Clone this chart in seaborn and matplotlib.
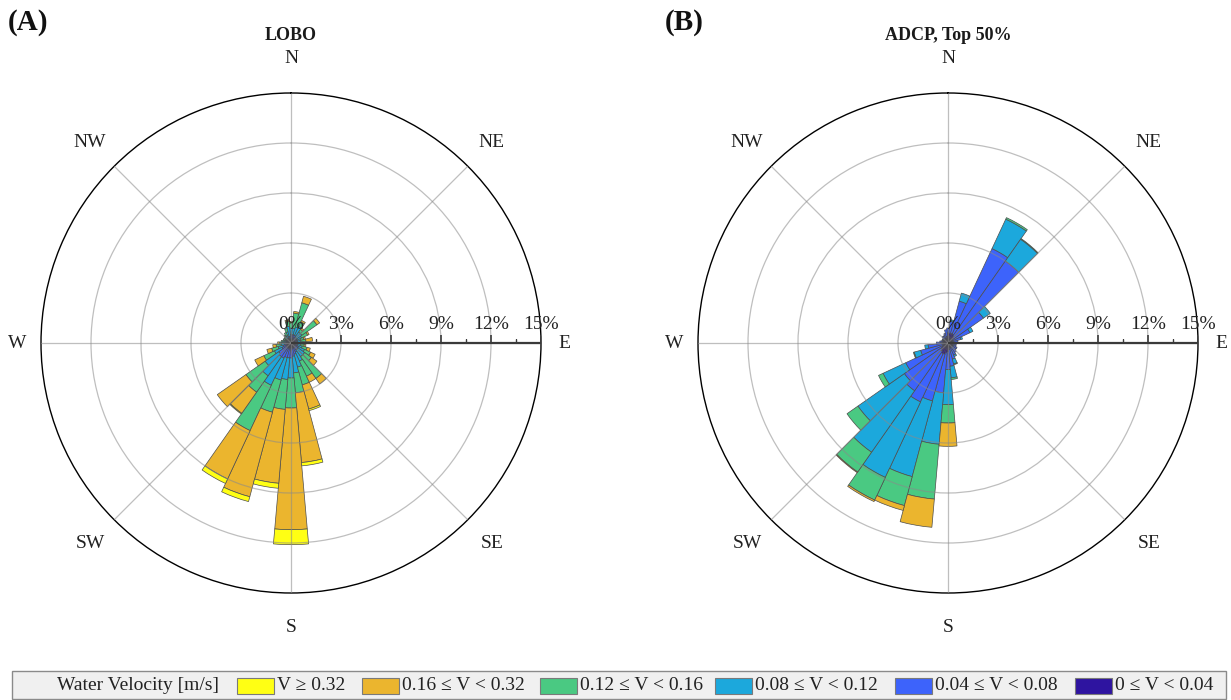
import numpy as np
import matplotlib
matplotlib.use("Agg")
import matplotlib.pyplot as plt
from matplotlib.patches import Rectangle
import seaborn as sns

# ---------------------------------------------------------------------------
# Data: frequency (%) of each speed class per 10-degree direction bin
# (directions are compass bearings the water flows toward, bin centres)
# ---------------------------------------------------------------------------
directions = list(range(0, 360, 10))

class_labels = ["0 \u2264 V < 0.04", "0.04 \u2264 V < 0.08", "0.08 \u2264 V < 0.12",
                "0.12 \u2264 V < 0.16", "0.16 \u2264 V < 0.32", "V \u2265 0.32"]
class_colors = ["#2E14A0", "#3D63FB", "#1CA8DC", "#4AC982", "#EBB52E", "#FFFF14"]

# LOBO
lobo_v0 = [.2, .2, .2, .2, .2, .2, .2, .2, .2, .2, .2, .2, .2, .2, .2, .3, .3, .3,
           .3, .3, .3, .3, .3, .3, .2, .2, .2, .2, .2, .1, .1, .1, .1, .1, .2, .2]
lobo_v1 = [.3, .3, .3, .3, .2, .2, .2, .2, .2, .1, .2, .2, .3, .3, .3, .3, .4, .5,
           .6, .6, .6, .7, .7, .6, .4, .3, .2, .2, .1, .2, .2, .2, .2, .2, .2, .2]
lobo_v2 = [.4, .4, .5, .6, .4, .4, .3, .2, .2, .2, .2, .3, .4, .5, .5, .6, .8, 1.0,
           1.2, 1.3, 1.4, 1.8, 1.4, 1.0, .5, .3, .2, .2, .2, .1, .1, .1, .2, .2, .3, .6]
lobo_v3 = [.3, .9, 1.5, .3, .2, 1.1, .4, .2, .3, .2, .2, .3, .4, .5, 1.6, 1.0, 1.1, 1.2,
           1.8, 1.8, 2.0, 3.0, 1.2, 1.4, .7, .4, .3, .1, .1, .1, .1, .1, .1, .2, .2, .3]
lobo_v4 = [.1, .1, .4, .1, .1, .2, .1, .1, .4, .1, .1, .2, .3, .4, .4, .4, 1.5, 4.2,
           7.3, 4.45, 5.25, 3.2, 1.55, 2.1, .6, .3, .2, .1, 0, 0, 0, 0, 0, 0, 0, .1]
lobo_v5 = [0, 0, 0, 0, 0, 0, 0, 0, 0, 0, 0, 0, 0, 0, 0, 0, .1, .2,
           .9, .3, .3, .3, .05, 0, 0, 0, 0, 0, 0, 0, 0, 0, 0, 0, 0, 0]

# ADCP, top 50 % of the water column
adcp_v0 = [.6, .6, .6, .6, .5, .4, .3, .3, .3, .3, .3, .3, .3, .3, .3, .3, .3, .4,
           .5, .6, .7, .7, .6, .5, .4, .3, .3, .3, .3, .3, .3, .3, .3, .3, .3, .4]
adcp_v1 = [.3, .7, 2.0, 5.65, 5.5, 2.2, 1.15, .5, .3, .2, .2, .2, .3, .3, .4, .5, .7, 1.0,
           1.1, 2.4, 2.9, 3.2, 2.9, 2.7, 2.4, 1.4, .9, .4, .2, .1, .1, .1, .2, .2, .3, .4]
adcp_v2 = [0, .1, .5, 1.95, 1.6, .5, .2, .1, 0, 0, 0, 0, 0, 0, 0, .1, .3, .7,
           2.1, 3.1, 4.7, 5.0, 4.5, 3.4, 1.5, .4, .2, 0, 0, 0, 0, 0, 0, 0, 0, 0]
adcp_v3 = [0, 0, 0, .1, .05, 0, 0, 0, 0, 0, 0, 0, 0, 0, 0, 0, .05, .1,
           1.1, 3.3, 1.8, 1.5, 1.45, .8, .3, .05, 0, 0, 0, 0, 0, 0, 0, 0, 0, 0]
adcp_v4 = [0, 0, 0, 0, 0, 0, 0, 0, 0, 0, 0, 0, 0, 0, 0, 0, 0, 0,
           1.4, 1.7, .3, .1, .05, 0, 0, 0, 0, 0, 0, 0, 0, 0, 0, 0, 0, 0]
adcp_v5 = [0] * 36

radial_ticks = [0, 3, 6, 9, 12, 15]
radial_minor = [1.5, 4.5, 7.5, 10.5, 13.5]
compass_names = ["N", "NE", "E", "SE", "S", "SW", "W", "NW"]
compass_angles = [0, 45, 90, 135, 180, 225, 270, 315]

panels = [
    ("(A)", "LOBO", [lobo_v0, lobo_v1, lobo_v2, lobo_v3, lobo_v4, lobo_v5]),
    ("(B)", "ADCP, Top 50%", [adcp_v0, adcp_v1, adcp_v2, adcp_v3, adcp_v4, adcp_v5]),
]

# ---------------------------------------------------------------------------
sns.set_theme(style="white")
plt.rcParams["font.family"] = ["Liberation Serif", "DejaVu Serif"]
palette = sns.color_palette(class_colors)

W, H = 1231, 700
fig = plt.figure(figsize=(W / 100, H / 100), dpi=100)
fig.patch.set_facecolor("white")

R_PX = 250  # pixel radius of the 15 % ring
centres = [(291, 343), (948, 343)]


def draw_rose(ax, class_values):
    theta = np.deg2rad(directions)
    width = np.deg2rad(10)
    bottom = np.zeros(len(directions))
    for vals, col in zip(class_values, palette):
        vals = np.asarray(vals, dtype=float)
        keep = vals > 0
        ax.bar(theta[keep], vals[keep], width=width, bottom=bottom[keep],
               color=col, edgecolor="#4d4d4d", linewidth=0.5, zorder=1)
        bottom += vals


for (letter, title, values), (cx, cy) in zip(panels, centres):
    ax = fig.add_axes([(cx - R_PX) / W, (H - cy - R_PX) / H, 2 * R_PX / W, 2 * R_PX / H],
                      projection="polar")
    ax.set_theta_zero_location("N")
    ax.set_theta_direction(-1)
    ax.set_facecolor("white")
    draw_rose(ax, values)
    ax.set_ylim(0, 15)
    ax.set_rgrids([3, 6, 9, 12], labels=[])
    ax.set_thetagrids(compass_angles, labels=[])
    ax.set_axisbelow(False)
    ax.grid(True, color="#8a8a8a", alpha=0.55, linewidth=0.9)
    ax.spines["polar"].set_color("black")
    ax.spines["polar"].set_linewidth(1.0)

    # radial scale along the east axis
    east = np.pi / 2
    ax.plot([east, east], [0, 15], color="#3a3a3a", lw=1.6, zorder=4,
            solid_capstyle="butt")
    ax.plot([east] * len(radial_ticks[1:]), radial_ticks[1:], ls="none", marker=2,
            markersize=5.5, mew=1.2, color="#3a3a3a", zorder=4)
    ax.plot([east] * len(radial_minor), radial_minor, ls="none", marker=2,
            markersize=2.6, mew=1.0, color="#3a3a3a", zorder=4)
    for t in radial_ticks:
        ax.annotate(f"{t}%", xy=(east, t), xytext=(0, 13), textcoords="offset points",
                    ha="center", va="center", fontsize=14, color="#222222",
                    zorder=5, annotation_clip=False)

    for name, ang in zip(compass_names, compass_angles):
        r = 16.4 if name in ("E", "W") else 17.05
        ax.text(np.deg2rad(ang), r, name, ha="center", va="center", fontsize=14,
                color="#222222", clip_on=False)

    fig.text(cx / W, 1 - 35 / H, title, ha="center", va="center",
             fontsize=13, fontweight="bold", color="#1a1a1a")
    fig.text((cx - 283) / W, 1 - 22 / H, letter, ha="left", va="center",
             fontsize=21, fontweight="bold", color="#111111")

# ---------------------------------------------------------------------------
# Legend strip along the bottom
fig.patches.append(Rectangle((12 / W, 1 / H), 1214 / W, 28 / H, transform=fig.transFigure,
                             facecolor="#F0F0F0", edgecolor="#8a8a8a", linewidth=1.0,
                             zorder=0))
ly = 1 - 686 / H
fig.text(57 / W, ly, "Water Velocity [m/s]", ha="left", va="center", fontsize=14,
         color="#222222")
legend_order = [5, 4, 3, 2, 1, 0]
patch_x = [237, 362, 540, 715, 895, 1075]
for idx, px in zip(legend_order, patch_x):
    fig.patches.append(Rectangle((px / W, (H - 694) / H), 37 / W, 16 / H,
                                 transform=fig.transFigure, facecolor=palette[idx],
                                 edgecolor="#7a7a7a", linewidth=0.8, zorder=1))
    fig.text((px + 40) / W, ly, class_labels[idx], ha="left", va="center",
             fontsize=14, color="#222222")

fig.savefig("out.png", dpi=100, facecolor="white")
